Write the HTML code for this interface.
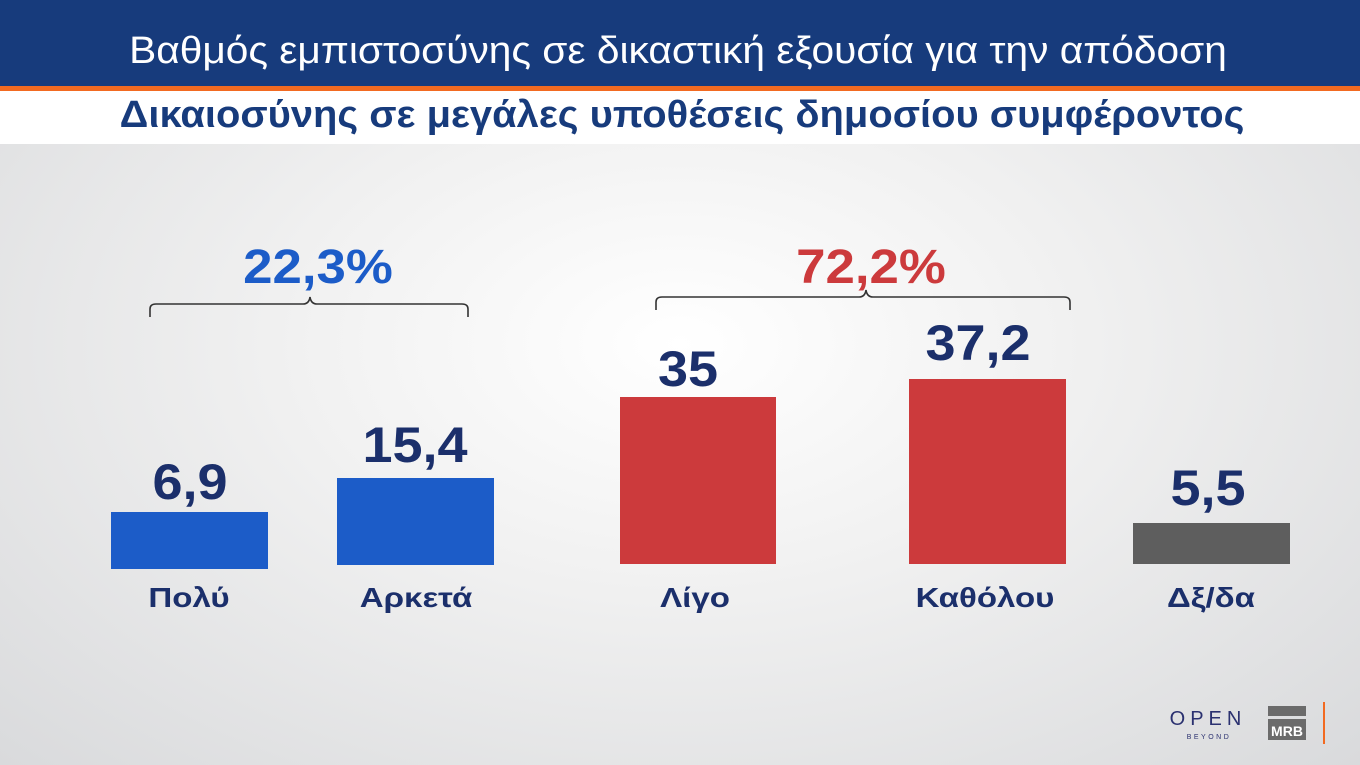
<!DOCTYPE html>
<html><head><meta charset="utf-8"><style>
body{margin:0;width:1360px;height:765px;overflow:hidden;font-family:"Liberation Sans",sans-serif;position:relative;
background:radial-gradient(ellipse at 50% 45%,#ffffff 0%,#f1f1f1 40%,#d9dadc 100%);}
.hdr{position:absolute;left:0;top:0;width:1360px;height:86px;background:#173b7c;}
.or{position:absolute;left:0;top:86px;width:1360px;height:5px;background:#f26a21;}
.sub{position:absolute;left:0;top:91px;width:1360px;height:53px;background:#fff;}
.t{position:absolute;white-space:nowrap;text-align:center;transform:translateX(-50%);}
.bar{position:absolute;}
.v{font-weight:bold;font-size:50px;color:#1b2f6b;transform:translateX(-50%) scaleX(1.08);}
.l{font-weight:bold;font-size:28px;color:#1b2f6b;transform:translateX(-50%) scaleX(1.18);}
.p{font-size:48px;font-weight:bold;transform:translateX(-50%) scaleX(1.1);}
</style></head><body>
<div class="hdr"></div><div class="or"></div><div class="sub"></div>
<div class="t" style="left:678px;top:30px;font-size:38px;color:#fff;transform:translateX(-50%) scaleX(1.07)">Βαθμός εμπιστοσύνης σε δικαστική εξουσία για την απόδοση</div>
<div class="t" style="left:682px;top:94px;font-size:38px;font-weight:bold;color:#173b7c;transform:translateX(-50%) scaleX(1.05)">Δικαιοσύνης σε μεγάλες υποθέσεις δημοσίου συμφέροντος</div>

<div class="bar" style="left:111px;top:512px;width:157px;height:57px;background:#1c5cc8"></div>
<div class="bar" style="left:337px;top:478px;width:157px;height:87px;background:#1c5cc8"></div>
<div class="bar" style="left:620px;top:397px;width:156px;height:167px;background:#cc3a3c"></div>
<div class="bar" style="left:909px;top:379px;width:157px;height:185px;background:#cc3a3c"></div>
<div class="bar" style="left:1133px;top:523px;width:157px;height:41px;background:#5e5e5e"></div>

<div class="t v" style="left:190px;top:453px">6,9</div>
<div class="t v" style="left:415px;top:416px">15,4</div>
<div class="t v" style="left:688px;top:340px">35</div>
<div class="t v" style="left:978px;top:314px">37,2</div>
<div class="t v" style="left:1208px;top:459px">5,5</div>

<div class="t l" style="left:189px;top:582px">Πολύ</div>
<div class="t l" style="left:416px;top:582px">Αρκετά</div>
<div class="t l" style="left:695px;top:582px">Λίγο</div>
<div class="t l" style="left:985px;top:582px">Καθόλου</div>
<div class="t l" style="left:1211px;top:582px">Δξ/δα</div>

<div class="t p" style="left:318px;top:240px;color:#1c5cc8">22,3%</div>
<div class="t p" style="left:871px;top:240px;color:#cc3a3c">72,2%</div>
<svg style="position:absolute;left:0;top:0" width="1360" height="765">
<path d="M150 317 V309 Q150 304 156 304 H303 Q309 304 310 297 Q311 304 317 304 H462 Q468 304 468 309 V317" fill="none" stroke="#333" stroke-width="1.6"/>
<path d="M656 310 V302 Q656 297 662 297 H859 Q865 297 866 290 Q867 297 873 297 H1064 Q1070 297 1070 302 V310" fill="none" stroke="#333" stroke-width="1.6"/>
<text x="1208" y="725" font-size="20" fill="#2b3170" text-anchor="middle" letter-spacing="5" font-family="Liberation Sans">OPEN</text>
<text x="1209" y="739" font-size="7" fill="#2b3170" text-anchor="middle" letter-spacing="2.5" font-family="Liberation Sans">BEYOND</text>
<rect x="1268" y="706" width="38" height="10" fill="#6b6b6b"/>
<rect x="1268" y="719" width="38" height="21" fill="#6b6b6b"/>
<text x="1287" y="736" font-size="14" font-weight="bold" fill="#fff" text-anchor="middle" font-family="Liberation Sans">MRB</text>
<rect x="1323" y="702" width="2" height="42" fill="#f26a21"/>
</svg>
</body></html>
